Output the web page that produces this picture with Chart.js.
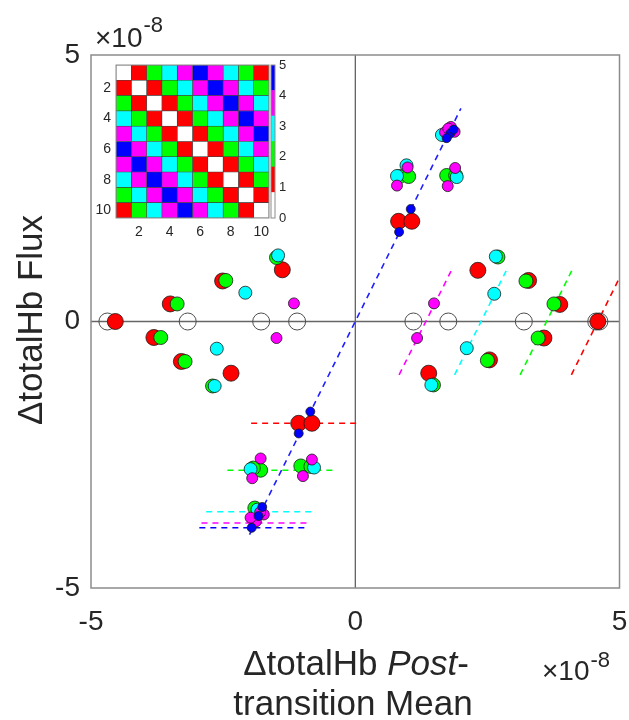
<!DOCTYPE html>
<html>
<head>
<meta charset="utf-8">
<script src="https://cdn.jsdelivr.net/npm/chart.js@4.4.0/dist/chart.umd.min.js"></script>
<style>
    body { margin: 0; background: #ffffff; }
    #wrap { position: relative; width: 629px; height: 720px; }
    canvas { position: absolute; }
</style>
</head>
<body>
<div id="wrap">
    <canvas id="mainChart" width="629" height="720" style="left:0;top:0"></canvas>
    <canvas id="insetChart" width="190" height="184" style="left:86px;top:60px"></canvas>
    <canvas id="cbarChart" width="40" height="163" style="left:262px;top:60px"></canvas>
</div>
<script>
// Post-transition mean vs flux scatter, values in units of 1e-8

const axisTicks = [-5, 0, 5];

const redPts = [[-4.54, 0], [-3.50, 0.33], [-3.81, -0.30], [-3.29, -0.75], [-2.51, 0.76], [-2.35, -0.97],
    [-1.38, 0.97], [-1.07, -1.91], [-0.82, -1.91], [0.82, 1.88], [1.07, 1.88], [1.39, -0.97],
    [2.32, 0.96], [2.54, -0.72], [3.28, 0.77], [3.57, -0.31], [3.87, 0.32], [4.59, 0]];
const greenPts = [[-3.37, 0.33], [-3.68, -0.30], [-3.22, -0.75], [-2.45, 0.77], [-2.70, -1.21], [-1.49, 1.20],
    [-1.79, -2.79], [-1.93, -2.75], [-1.03, -2.71], [-0.84, -2.72], [-1.90, -3.50],
    [0.84, 2.72], [1.01, 2.72], [1.73, 2.74], [1.90, 2.74], [1.70, 3.50],
    [1.48, -1.19], [2.70, 1.21], [2.50, -0.73], [3.23, 0.76], [3.76, 0.33], [3.46, -0.31]];
const cyanPts = [[-2.08, 0.54], [-2.62, -0.51], [-2.66, -1.21], [-1.46, 1.24], [-1.98, -2.77], [-0.78, -2.74],
    [-1.85, -3.53], [0.79, 2.73], [0.97, 2.93], [1.92, 2.71], [1.64, 3.50],
    [2.11, -0.50], [2.63, 0.52], [2.66, 1.22], [1.44, -1.19]];
const magentaPts = [[-1.16, 0.34], [-1.49, -0.31], [-1.79, -2.57], [-1.95, -2.94], [-0.82, -2.59], [-0.99, -2.90],
    [-1.73, -3.62], [-1.88, -3.75], [-1.98, -3.68], [-1.80, -3.58],
    [1.49, 0.34], [1.17, -0.31], [0.99, 2.89], [0.79, 2.55], [1.89, 2.88], [1.75, 2.54],
    [1.81, 3.65], [1.70, 3.55], [1.88, 3.56], [1.76, 3.62]];
const bluePts = [[-0.85, -1.69], [-1.07, -2.10], [-1.76, -3.48], [-1.83, -3.65], [-1.96, -3.87],
    [0.83, 1.68], [1.05, 2.11], [1.80, 3.53], [1.73, 3.44], [1.86, 3.60]];
const openPts = [[-4.69, 0], [-3.17, 0], [-1.78, 0], [-1.10, 0], [1.10, 0], [1.76, 0], [3.19, 0], [4.56, 0], [4.62, 0]];

// dashed guide lines: [x1, y1, x2, y2]
const blueDiag = [-2.0, -4.0, 2.0, 4.0];
const hLines = {
    red: [-1.97, -1.91, 0.03, -1.91],
    green: [-2.42, -2.79, -0.40, -2.79],
    cyan: [-2.82, -3.57, -0.82, -3.57],
    magenta: [-2.91, -3.78, -0.91, -3.78],
    blue: [-2.95, -3.87, -0.95, -3.87]
};
const dLines = {
    magenta: [0.83, -1.0, 1.84, 1.0],
    cyan: [1.88, -1.0, 2.88, 1.0],
    green: [3.12, -1.0, 4.12, 1.0],
    red: [4.09, -1.0, 5.09, 1.0]
};

// inset: 10x10 matrix of levels 0..5
const insetLabels = ['1', '2', '3', '4', '5', '6', '7', '8', '9', '10'];
const insetMatrix = [
    [0, 1, 2, 3, 4, 5, 4, 3, 2, 1],
    [1, 0, 1, 2, 3, 4, 5, 4, 3, 2],
    [2, 1, 0, 1, 2, 3, 4, 5, 4, 3],
    [3, 2, 1, 0, 1, 2, 3, 4, 5, 4],
    [4, 3, 2, 1, 0, 1, 2, 3, 4, 5],
    [5, 4, 3, 2, 1, 0, 1, 2, 3, 4],
    [4, 5, 4, 3, 2, 1, 0, 1, 2, 3],
    [3, 4, 5, 4, 3, 2, 1, 0, 1, 2],
    [2, 3, 4, 5, 4, 3, 2, 1, 0, 1],
    [1, 2, 3, 4, 5, 4, 3, 2, 1, 0]
];
const insetTicks = [2, 4, 6, 8, 10];
const cbarEdges = [0, 0.833, 1.667, 2.5, 3.333, 4.167, 5];
const cbarTicks = [0, 1, 2, 3, 4, 5];

const levelColors = ['#ffffff', '#ff0000', '#00ff00', '#00ffff', '#ff00ff', '#0000ff'];
const levelNames = ['white', 'red', 'green', 'cyan', 'magenta', 'blue'];
const FONT = "'Liberation Sans', Arial, sans-serif";
const TEXT = '#262626';

const toXY = pts => pts.map(p => ({ x: p[0], y: p[1] }));
const seg = s => [{ x: s[0], y: s[1] }, { x: s[2], y: s[3] }];

function dotSet(pts, color, r, order) {
    return {
        data: toXY(pts),
        backgroundColor: color,
        borderColor: '#1a1a1a',
        borderWidth: 0.8,
        pointRadius: r,
        order: order
    };
}

function dashSet(s, color, order) {
    return {
        type: 'line',
        data: seg(s),
        borderColor: color,
        borderWidth: 1.6,
        borderDash: [6, 5],
        pointRadius: 0,
        showLine: true,
        order: order
    };
}

const datasets = [
    dotSet(bluePts, '#0000ff', 4.5, 1),
    dotSet(magentaPts, '#ff00ff', 5.5, 2),
    dotSet(cyanPts, '#00ffff', 6.5, 3),
    dotSet(greenPts, '#00ff00', 7, 4),
    dotSet(redPts, '#ff0000', 8, 5),
    {
        data: toXY(openPts),
        backgroundColor: 'rgba(0,0,0,0)',
        borderColor: '#4d4d4d',
        borderWidth: 1,
        pointRadius: 8.5,
        order: 6
    },
    dashSet(blueDiag, '#1f1fff', 7)
];
Object.keys(hLines).forEach(k => datasets.push(dashSet(hLines[k], levelColors[levelNames.indexOf(k)], 7)));
Object.keys(dLines).forEach(k => datasets.push(dashSet(dLines[k], levelColors[levelNames.indexOf(k)], 7)));
// zero lines
datasets.push({ type: 'line', data: seg([-5, 0, 5, 0]), borderColor: '#666666', borderWidth: 1.5, pointRadius: 0, order: 8 });
datasets.push({ type: 'line', data: seg([0, -5, 0, 5]), borderColor: '#333333', borderWidth: 1, pointRadius: 0, order: 8 });

const boxPlugin = {
    id: 'box',
    afterDraw(chart) {
        const a = chart.chartArea;
        const ctx = chart.ctx;
        ctx.save();
        ctx.strokeStyle = '#8c8c8c';
        ctx.lineWidth = chart.options.plugins.box.width;
        ctx.strokeRect(a.left, a.top, a.right - a.left, a.bottom - a.top);
        ctx.restore();
    }
};

const labelPlugin = {
    id: 'labels',
    afterDraw(chart) {
        const ctx = chart.ctx;
        ctx.save();
        ctx.fillStyle = TEXT;

        // y title
        ctx.save();
        ctx.translate(30, 320);
        ctx.rotate(-Math.PI / 2);
        ctx.font = `35px ${FONT}`;
        ctx.textAlign = 'center';
        ctx.textBaseline = 'alphabetic';
        ctx.fillText('ΔtotalHb Flux', 0, 12);
        ctx.restore();

        // x title, two lines, "Post" in italic
        ctx.textAlign = 'left';
        ctx.font = `35px ${FONT}`;
        const a1 = 'ΔtotalHb ';
        const w1 = ctx.measureText(a1).width;
        ctx.font = `italic 35px ${FONT}`;
        const w2 = ctx.measureText('Post').width;
        ctx.font = `35px ${FONT}`;
        const w3 = ctx.measureText('-').width;
        let x0 = 356 - (w1 + w2 + w3) / 2;
        ctx.fillText(a1, x0, 675);
        ctx.font = `italic 35px ${FONT}`;
        ctx.fillText('Post', x0 + w1, 675);
        ctx.font = `35px ${FONT}`;
        ctx.fillText('-', x0 + w1 + w2, 675);
        ctx.textAlign = 'center';
        ctx.fillText('transition Mean', 353, 715);

        // exponent labels
        const expo = (x, y, lift) => {
            ctx.textAlign = 'left';
            ctx.font = `28px ${FONT}`;
            ctx.fillText('×10', x, y);
            const w = ctx.measureText('×10').width;
            ctx.font = `22px ${FONT}`;
            ctx.fillText('-8', x + w + 1, y - lift);
        };
        expo(542, 680, 13);
        expo(95, 47, 15);
        ctx.restore();
    }
};

new Chart(document.getElementById('mainChart'), {
    type: 'scatter',
    data: { datasets: datasets },
    options: {
        responsive: false,
        animation: false,
        devicePixelRatio: 1,
        layout: { padding: { top: 55, right: 6, left: 0, bottom: 0 } },
        plugins: { legend: { display: false }, tooltip: { enabled: false }, box: { width: 1.5 } },
        scales: {
            x: {
                type: 'linear', min: -5, max: 5,
                afterBuildTicks: s => { s.ticks = axisTicks.map(v => ({ value: v })); },
                afterFit: s => { s.height = 132; s.paddingLeft = 0; s.paddingRight = 0; },
                grid: { display: false, drawTicks: false },
                border: { display: false },
                ticks: { font: { family: FONT, size: 28 }, color: TEXT, padding: 17, maxRotation: 0 }
            },
            y: {
                type: 'linear', min: -5, max: 5,
                afterBuildTicks: s => { s.ticks = axisTicks.map(v => ({ value: v })); },
                afterFit: s => { s.width = 91; s.paddingTop = 0; s.paddingBottom = 0; },
                grid: { display: false, drawTicks: false },
                border: { display: false },
                ticks: { font: { family: FONT, size: 28 }, color: TEXT, padding: 11 }
            }
        }
    },
    plugins: [boxPlugin, labelPlugin]
});

// inset matrix as floating horizontal bars, one dataset per column
const insetSets = insetMatrix[0].map((_, j) => ({
    data: insetMatrix.map(() => [j + 0.5, j + 1.5]),
    backgroundColor: insetMatrix.map(row => levelColors[row[j]]),
    borderColor: '#404040',
    borderWidth: 0.6,
    borderSkipped: false,
    grouped: false,
    barPercentage: 1,
    categoryPercentage: 1
}));

new Chart(document.getElementById('insetChart'), {
    type: 'bar',
    data: { labels: insetLabels, datasets: insetSets },
    options: {
        indexAxis: 'y',
        responsive: false,
        animation: false,
        devicePixelRatio: 1,
        layout: { padding: { top: 5, right: 7, left: 0, bottom: 0 } },
        plugins: { legend: { display: false }, tooltip: { enabled: false }, box: { width: 1 } },
        scales: {
            x: {
                type: 'linear', min: 0.5, max: 10.5,
                afterBuildTicks: s => { s.ticks = insetTicks.map(v => ({ value: v })); },
                afterFit: s => { s.height = 26; s.paddingLeft = 0; s.paddingRight = 0; },
                grid: { display: false, drawTicks: false },
                border: { display: false },
                ticks: { font: { family: FONT, size: 14 }, color: TEXT, padding: 6 }
            },
            y: {
                type: 'category',
                afterFit: s => { s.width = 30; s.paddingTop = 0; s.paddingBottom = 0; },
                grid: { display: false, drawTicks: false },
                border: { display: false },
                ticks: {
                    font: { family: FONT, size: 14 }, color: TEXT, padding: 5, autoSkip: false,
                    callback: (v, i) => ((i + 1) % 2 === 0 ? insetLabels[i] : '')
                }
            }
        }
    },
    plugins: [boxPlugin]
});

// colorbar
const cbarSets = levelColors.map((c, i) => ({
    data: [[cbarEdges[i], cbarEdges[i + 1]]],
    backgroundColor: c,
    borderWidth: 0,
    grouped: false,
    barPercentage: 1,
    categoryPercentage: 1
}));

new Chart(document.getElementById('cbarChart'), {
    type: 'bar',
    data: { labels: [''], datasets: cbarSets },
    options: {
        responsive: false,
        animation: false,
        devicePixelRatio: 1,
        layout: { padding: { top: 5, right: 0, left: 9, bottom: 5 } },
        plugins: { legend: { display: false }, tooltip: { enabled: false }, box: { width: 1 } },
        scales: {
            x: { display: false },
            y: {
                position: 'right', min: 0, max: 5,
                afterBuildTicks: s => { s.ticks = cbarTicks.map(v => ({ value: v })); },
                afterFit: s => { s.width = 27; s.paddingTop = 0; s.paddingBottom = 0; },
                grid: { display: false, drawTicks: false },
                border: { display: false },
                ticks: { font: { family: FONT, size: 13 }, color: TEXT, padding: 4 }
            }
        }
    },
    plugins: [boxPlugin]
});
</script>
</body>
</html>
